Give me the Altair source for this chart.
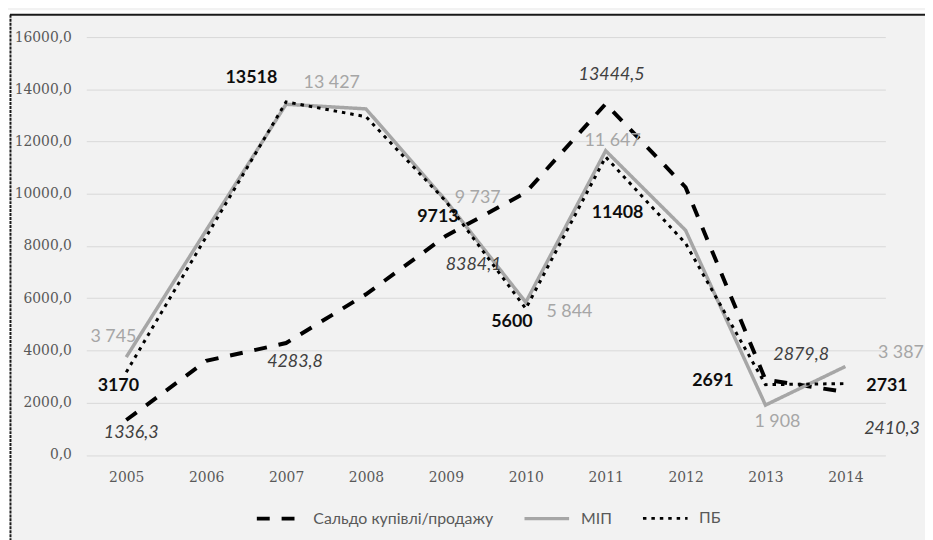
import altair as alt
import pandas as pd

years = [2005, 2006, 2007, 2008, 2009, 2010, 2011, 2012, 2013, 2014]
saldo = [1336.3, 3600, 4283.8, 6150, 8384.1, 10050, 13444.5, 10250, 2879.8, 2410.3]
mip = [3745, 8600, 13427, 13250, 9737, 5844, 11647, 8600, 1908, 3387]
pb = [3170, 8350, 13518, 12950, 9713, 5600, 11408, 8100, 2691, 2731]
series_names = ["Сальдо купівлі/продажу", "МІП", "ПБ"]

saldo_label_years = [2005, 2007, 2009, 2011, 2013, 2014]
mip_label_years = [2005, 2007, 2009, 2010, 2011, 2013, 2014]
pb_label_years = [2005, 2007, 2009, 2010, 2011, 2013, 2014]

rows = []
for name, vals in zip(series_names, [saldo, mip, pb]):
    for y, v in zip(years, vals):
        rows.append({"year": y, "series": name, "value": v})
df = pd.DataFrame(rows)


def fmt(name, v):
    if name == series_names[0]:
        return f"{v:.1f}".replace(".", ",")
    if name == series_names[1]:
        return f"{v:,.0f}".replace(",", " ")
    return f"{v:.0f}"


df["label"] = [fmt(s, v) for s, v in zip(df["series"], df["value"])]

W, H = 806, 421.5
PAD_L, PAD_T = 79, 27

# label placement (style): (dx, dy, align)
place = {
    series_names[0]: {2005: (5, 13, "center"), 2007: (9, 19, "center"), 2009: (28, 29, "center"),
                      2011: (6, -29, "center"), 2013: (36, -25, "center"), 2014: (47, 37, "center")},
    series_names[1]: {2005: (-13, -20, "center"), 2007: (46, -21, "center"), 2009: (32, -3, "center"),
                      2010: (44, 10, "center"), 2011: (7, -10, "center"), 2013: (12, 17, "center"),
                      2014: (56, -14, "center")},
    series_names[2]: {2005: (-8, 14, "center"), 2007: (-35, -24, "center"), 2009: (-8, 16, "center"),
                      2010: (-14, 13, "center"), 2011: (12, 57, "center"), 2013: (-53, -4, "center"),
                      2014: (42, 2, "center")},
}
text_style = {
    series_names[0]: dict(fontStyle="italic", fontWeight="normal", color="#404040"),
    series_names[1]: dict(fontStyle="normal", fontWeight="normal", color="#a6a6a6"),
    series_names[2]: dict(fontStyle="normal", fontWeight="bold", color="#0d0d0d"),
}
label_years = {series_names[0]: saldo_label_years, series_names[1]: mip_label_years,
               series_names[2]: pb_label_years}

FONT = "Lato, 'Noto Sans', sans-serif"
SERIF = "'DejaVu Serif', serif"

x_enc = alt.X("year:O", scale=alt.Scale(type="point", padding=0.5),
              axis=alt.Axis(title=None, labelAngle=0, domain=False, ticks=False, grid=False,
                            labelFont=SERIF, labelFontSize=14, labelColor="#595959", labelPadding=16))
y_enc = alt.Y("value:Q", scale=alt.Scale(domain=[0, 16000], nice=False),
              axis=alt.Axis(title=None, values=list(range(0, 16001, 2000)),
                            labelExpr="replace(format(datum.value, '.1f'), '.', ',')",
                            domain=False, ticks=False, grid=True, gridColor="#d9d9d9", gridWidth=1,
                            labelFont=SERIF, labelFontSize=14, labelColor="#595959", labelPadding=15))

frame_df = pd.DataFrame({"k": [0]})
white_left = alt.Chart(frame_df).mark_rect(fill="white").encode(
    x=alt.value(-PAD_L), x2=alt.value(-PAD_L + 2), y=alt.value(-PAD_T), y2=alt.value(H + 100))
white_top = alt.Chart(frame_df).mark_rect(fill="white").encode(
    x=alt.value(-PAD_L), x2=alt.value(W + 60), y=alt.value(-PAD_T), y2=alt.value(-PAD_T + 4.5))
left_border = alt.Chart(frame_df).mark_rule(color="#1a1a1a", strokeWidth=2, strokeDash=[3, 1]).encode(
    x=alt.value(-PAD_L + 2.5), y=alt.value(-PAD_T + 4.5), y2=alt.value(H + 100))
top_border = alt.Chart(frame_df).mark_rule(color="#1a1a1a", strokeWidth=2).encode(
    x=alt.value(-PAD_L + 2), x2=alt.value(W + 60), y=alt.value(-PAD_T + 4.5))

leg = alt.Legend(title=None, orient="none", legendX=170, legendY=461, direction="horizontal",
                 symbolType="stroke", symbolSize=2025, labelFont=FONT, labelFontSize=16,
                 labelColor="#595959", labelOffset=10, columnPadding=24, labelLimit=400)

lines = alt.Chart(df).mark_line().encode(
    x=x_enc, y=y_enc,
    color=alt.Color("series:N", scale=alt.Scale(domain=series_names, range=["#000000", "#a6a6a6", "#000000"]), legend=leg),
    strokeDash=alt.StrokeDash("series:N", scale=alt.Scale(domain=series_names, range=[[13, 12], [1, 0], [3.5, 5]]), legend=leg),
    strokeWidth=alt.StrokeWidth("series:N", scale=alt.Scale(domain=series_names, range=[4, 3, 4]), legend=leg),
)

texts = []
for s in series_names:
    for yr in label_years[s]:
        dx, dy, al = place[s][yr]
        st = text_style[s]
        t = alt.Chart(df).transform_filter(
            (alt.datum.series == s) & (alt.datum.year == yr)
        ).mark_text(font=FONT, fontSize=18, fontStyle=st["fontStyle"], fontWeight=st["fontWeight"],
                    color=st["color"], dx=dx, dy=dy, align=al, baseline="middle").encode(
            x=alt.X("year:O", scale=alt.Scale(type="point", padding=0.5)),
            y=alt.Y("value:Q", scale=alt.Scale(domain=[0, 16000], nice=False)),
            text="label:N")
        texts.append(t)

chart = alt.layer(lines, white_left, white_top, left_border, top_border, *texts).properties(
    width=W, height=H,
    autosize=alt.AutoSizeParams(type="none"),
    padding={"left": PAD_L, "top": PAD_T, "right": 40, "bottom": 84},
    background="#f2f2f2",
).configure_view(stroke=None)

chart.save("out.html", embed_options={"renderer": "svg", "actions": False})
